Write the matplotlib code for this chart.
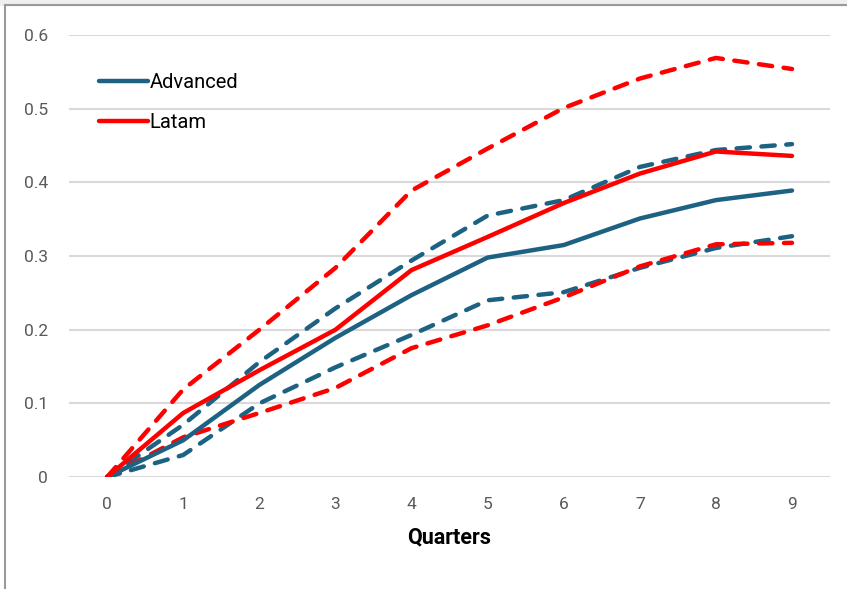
import matplotlib
matplotlib.use("Agg")
import matplotlib.pyplot as plt
from matplotlib.lines import Line2D

quarters = [0, 1, 2, 3, 4, 5, 6, 7, 8, 9]

adv = [0, 0.050, 0.125, 0.189, 0.247, 0.298, 0.315, 0.351, 0.376, 0.389]
adv_hi = [0, 0.071, 0.156, 0.229, 0.294, 0.355, 0.376, 0.421, 0.444, 0.452]
adv_lo = [0, 0.030, 0.100, 0.149, 0.193, 0.240, 0.251, 0.284, 0.311, 0.327]

lat = [0, 0.087, 0.145, 0.200, 0.281, 0.326, 0.372, 0.412, 0.442, 0.436]
lat_hi = [0, 0.119, 0.200, 0.284, 0.389, 0.446, 0.501, 0.541, 0.569, 0.554]
lat_lo = [0, 0.054, 0.087, 0.121, 0.175, 0.206, 0.244, 0.286, 0.316, 0.318]

blue = "#1d6283"
red = "#ff0000"

plt.rcParams["font.family"] = ["Roboto", "DejaVu Sans"]

fig = plt.figure(figsize=(8.47, 5.89), dpi=100)
ax = fig.add_axes([0.0815, 0.190, 0.8985, 0.7504])

lw = 3.2
dash = dict(linestyle=(0, (3.0, 2.6)), dash_capstyle="round", lw=lw)

ax.plot(quarters, adv_hi, color=blue, **dash)
ax.plot(quarters, adv_lo, color=blue, **dash)
ax.plot(quarters, lat_hi, color=red, **dash)
ax.plot(quarters, lat_lo, color=red, **dash)
ax.plot(quarters, adv, color=blue, lw=lw, solid_capstyle="round", label="Advanced")
ax.plot(quarters, lat, color=red, lw=lw, solid_capstyle="round", label="Latam")

ax.set_xlim(-0.5, 9.5)
ax.set_ylim(0, 0.6)
ax.set_xticks(quarters)
ax.set_yticks([0, 0.1, 0.2, 0.3, 0.4, 0.5, 0.6])
ax.set_yticklabels(["0", "0.1", "0.2", "0.3", "0.4", "0.5", "0.6"])
ax.tick_params(length=0, labelsize=12.5, labelcolor="#595959", pad=14)
ax.tick_params(axis="y", pad=15)
for s in ax.spines.values():
    s.set_visible(False)
ax.grid(axis="y", color="#d9d9d9", lw=1.5)
ax.set_axisbelow(True)

ax.set_xlabel("Quarters", fontsize=15.5, fontweight="bold", labelpad=11)

ax.legend(loc="upper left", bbox_to_anchor=(0.016, 0.955), frameon=False,
          fontsize=14.5, handlelength=2.4, handletextpad=0.1, labelspacing=1.05)

# frame lines along the top and left edges
fig.patches.append(plt.Rectangle((0, 0.992), 1, 0.008, transform=fig.transFigure,
                                 color="#efefef", zorder=0))
fig.lines.append(Line2D([0.006, 1], [0.9915, 0.9915], transform=fig.transFigure,
                        color="#9a9a9a", lw=1.5))
fig.lines.append(Line2D([0.006, 0.006], [0, 0.9915], transform=fig.transFigure,
                        color="#9a9a9a", lw=1.5))

fig.savefig("out.png", dpi=100)
